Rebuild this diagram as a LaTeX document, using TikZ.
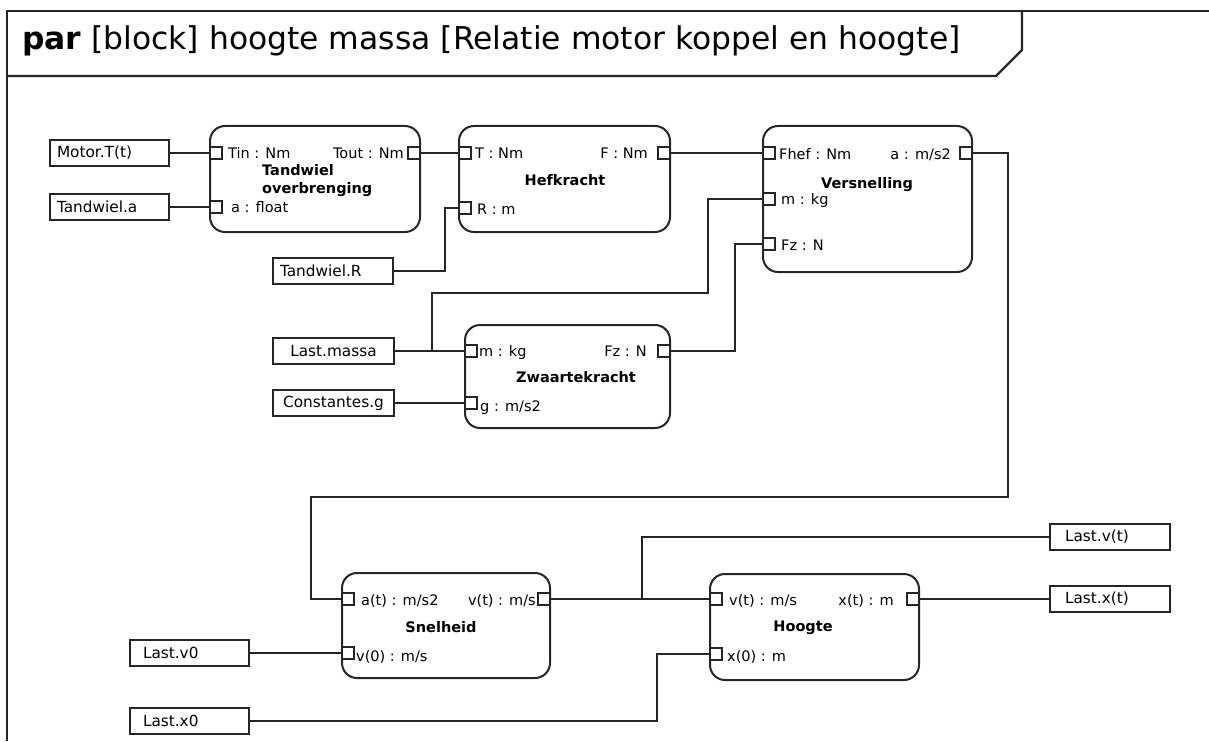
\documentclass[tikz,border=0pt]{standalone}
\usepackage{fontspec}
\setmainfont{DejaVu Sans}
\newcommand{\hdrfont}{\fontsize{31.4}{37}\selectfont}
\newcommand{\labfont}{\fontsize{14.5}{17}\selectfont}
\newcommand{\valfont}{\fontsize{15.3}{18}\selectfont}
\newcommand{\ttlfont}{\fontsize{14.5}{18}\selectfont\bfseries}
\begin{document}
\begin{tikzpicture}[x=1pt,y=-1pt,
  frameline/.style={draw=black!85, line width=2.3pt},
  blk/.style={draw=black!85, line width=2pt, rounded corners=15pt, inner sep=0pt, outer sep=0pt, anchor=north west},
  port/.style={draw=black!85, line width=1.6pt, fill=white, minimum size=12pt, inner sep=0pt, outer sep=0pt},
  wire/.style={draw=black!85, line width=1.8pt},
  val/.style={draw=black!85, line width=1.9pt, minimum height=26pt, inner ysep=0pt, outer sep=0pt, anchor=north west, font=\valfont, align=left},
  plab/.style={inner sep=0pt, font=\labfont},
  ttl/.style={inner sep=0pt, font=\ttlfont, align=center},
]
\useasboundingbox (0,0) rectangle (1209,741);

% diagram frame and its header tab
\draw[frameline] (7,741) -- (7,11) -- (1209,11);
\draw[frameline] (7,76) -- (996,76) -- (1022,50) -- (1022,11);
\node[inner sep=0pt, anchor=base west, font=\hdrfont] (hdr) at (22,50)
  {\textbf{par} [block] hoogte massa [Relatie motor koppel en hoogte]};

% ---------- blocks ----------
\node[blk, minimum width=210pt, minimum height=106pt] (tand) at (210,126) {};
\node[blk, minimum width=211pt, minimum height=106pt] (hef)  at (459,126) {};
\node[blk, minimum width=209pt, minimum height=146pt] (vers) at (763,126) {};
\node[blk, minimum width=205pt, minimum height=103pt] (zw)   at (465,325) {};
\node[blk, minimum width=208pt, minimum height=105pt] (snel) at (342,573) {};
\node[blk, minimum width=209pt, minimum height=106pt] (hoog) at (710,574) {};

% block titles
\node[ttl, anchor=base west, align=left] (tandT) at (262,193) {Tandwiel\\[-0.5pt]overbrenging};
\node[ttl, anchor=base] (hefT)  at (565,185) {Hefkracht};
\node[ttl, anchor=base] (versT) at (867,188) {Versnelling};
\node[ttl, anchor=base] (zwT)   at (576,382) {Zwaartekracht};
\node[ttl, anchor=base] (snelT) at (441,632) {Snelheid};
\node[ttl, anchor=base] (hoogT) at (803,631) {Hoogte};

% ---------- ports ----------
\node[port] (tin)  at (216,153) {};
\node[port] (ta)   at (216,207) {};
\node[port] (tout) at (414,153) {};
\node[port] (hT)   at (465,153) {};
\node[port] (hR)   at (465,208) {};
\node[port] (hF)   at (664,153) {};
\node[port] (vF)   at (769,153) {};
\node[port] (vm)   at (769,199) {};
\node[port] (vFz)  at (769,244) {};
\node[port] (va)   at (966,153) {};
\node[port] (zm)   at (471,351) {};
\node[port] (zg)   at (471,403) {};
\node[port] (zFz)  at (664,351) {};
\node[port] (sa)   at (348,599) {};
\node[port] (sv0)  at (348,653) {};
\node[port] (sv)   at (544,599) {};
\node[port] (hv)   at (716,599) {};
\node[port] (hx0)  at (716,654) {};
\node[port] (hx)   at (913,599) {};

% port labels
\node[plab, anchor=base west] (tinL)  at (228,158) {Tin : Nm};
\node[plab, anchor=base west] (taL)   at (231,212) {a : float};
\node[plab, anchor=base east] (toutL) at (404,158) {Tout : Nm};
\node[plab, anchor=base west] (hTL)   at (475,158) {T : Nm};
\node[plab, anchor=base west] (hRL)   at (477,214) {R : m};
\node[plab, anchor=base east] (hFL)   at (648,158) {F : Nm};
\node[plab, anchor=base west] (vFL)   at (779,159) {Fhef : Nm};
\node[plab, anchor=base west] (vmL)   at (781,204) {m : kg};
\node[plab, anchor=base west] (vFzL)  at (781,250) {Fz : N};
\node[plab, anchor=base east] (vaL)   at (951,159) {a : m/s2};
\node[plab, anchor=base west] (zmL)   at (479,356) {m : kg};
\node[plab, anchor=base west] (zgL)   at (480,411) {g : m/s2};
\node[plab, anchor=base east] (zFzL)  at (647,356) {Fz : N};
\node[plab, anchor=base west] (saL)   at (361,605) {a(t) : m/s2};
\node[plab, anchor=base west] (sv0L)  at (356,661) {v(0) : m/s};
\node[plab, anchor=base east] (svL)   at (536,605) {v(t) : m/s};
\node[plab, anchor=base west] (hvL)   at (729,605) {v(t) : m/s};
\node[plab, anchor=base west] (hx0L)  at (727,661) {x(0) : m};
\node[plab, anchor=base east] (hxL)   at (894,605) {x(t) : m};

% ---------- value properties ----------
\node[val, inner xsep=7pt,  text width=105pt] (motT) at (50,140)  {Motor.T(t)};
\node[val, inner xsep=7pt,  text width=105pt] (tanA) at (50,194)  {Tandwiel.a};
\node[val, inner xsep=7pt,  text width=106pt] (tanR) at (273,258) {Tandwiel.R};
\node[val, inner xsep=0pt,  text width=121pt, align=center] (lmas) at (273,338) {Last.massa};
\node[val, inner xsep=0pt,  text width=121pt, align=center] (cstg) at (273,390) {Constantes.g};
\node[val, inner xsep=13pt, text width=93pt]  (lv0)  at (130,640) {Last.v0};
\node[val, inner xsep=13pt, text width=93pt]  (lx0)  at (130,708) {Last.x0};
\node[val, inner xsep=15pt, text width=90pt]  (lvt)  at (1050,524) {Last.v(t)};
\node[val, inner xsep=15pt, text width=90pt]  (lxt)  at (1050,586) {Last.x(t)};

% bend points of the connectors
\coordinate (kR)  at (445,0);
\coordinate (kM)  at (432,293);
\coordinate (kM2) at (708,293);
\coordinate (kZ)  at (735,0);
\coordinate (kA)  at (1008,497);
\coordinate (kA2) at (311,497);
\coordinate (kV)  at (642,537);
\coordinate (kX)  at (657,0);

% ---------- connectors ----------
\draw[wire] (motT.east) -- (tin.west);
\draw[wire] (tanA.east) -- (ta.west);
\draw[wire] (tout.east) -- (hT.west);
\draw[wire] (tanR.east) -| (kR |- hR.west) -- (hR.west);
\draw[wire] (hF.east) -- (vF.west);
\draw[wire] (lmas.east) -- (zm.west);
\draw[wire] (kM |- zm.west) -- (kM) -- (kM2) |- (vm.west);
\draw[wire] (cstg.east) -- (zg.west);
\draw[wire] (zFz.east) -| (kZ |- vFz.west) -- (vFz.west);
\draw[wire] (va.east) -| (kA) -- (kA2) |- (sa.west);
\draw[wire] (lv0.east) -- (sv0.west);
\draw[wire] (sv.east) -- (hv.west);
\draw[wire] (kV |- sv.east) -- (kV) -- (lvt.west);
\draw[wire] (hx.east) -- (lxt.west);
\draw[wire] (lx0.east) -| (kX |- hx0.west) -- (hx0.west);
\end{tikzpicture}
\end{document}
